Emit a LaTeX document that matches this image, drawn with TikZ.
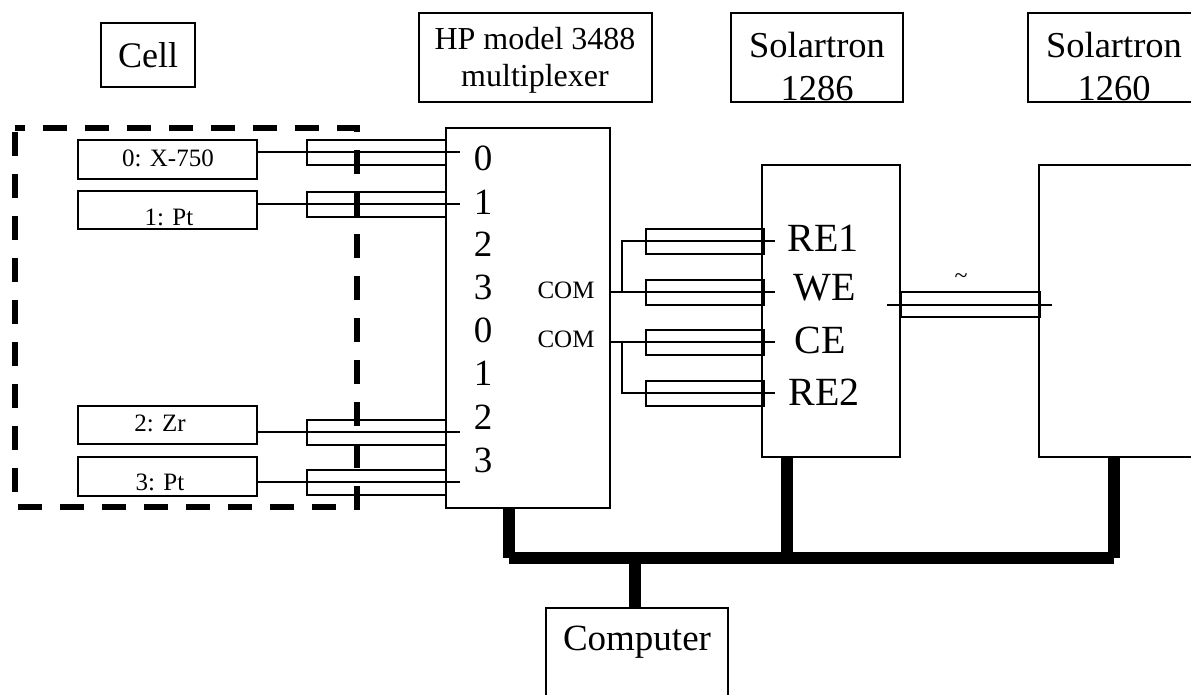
\documentclass[tikz,border=0pt]{standalone}
\usepackage{fontspec}
\setmainfont{Liberation Serif}

\begin{document}
\begin{tikzpicture}[%
					x=1pt,
					y=-1pt,
					line width=2pt,
					box/.style={%
						draw,
						rectangle,
						inner sep=0pt
					},
					tube/.style={%
						box,
						minimum height=25pt
					},
					caption/.style={%
						align=center,
						inner sep=0pt
					},
					bus/.style={%
						line width=12pt
					}
				]

				\useasboundingbox (0, 0) rectangle (1191, 694);

				\draw[line width=6pt, dash pattern=on 24pt off 18pt, dash phase=14pt]
					(15, 128) -- (357, 128) -- (357, 507) -- (15, 507) -- cycle;

				% top row
				\node (cellbox) [box, minimum width=94pt, minimum height=64pt] at (148, 55) {};
				\node (hpbox) [box, minimum width=233pt, minimum height=89pt] at (535.5, 57.5) {};
				\node (solabox) [box, minimum width=172pt, minimum height=89pt] at (817, 57.5) {};
				\node (solbbox) [box, minimum width=172pt, minimum height=89pt] at (1114, 57.5) {};

				\node (celltext) [caption, font=\fontsize{36}{36}\selectfont] at (148, 55) {Cell};
				\node (hptext) [caption, font=\fontsize{32}{37}\selectfont] at (535, 60) {HP model 3488\\multiplexer};
				\node (solatext) [caption, font=\fontsize{36.5}{43}\selectfont] at (817, 67) {Solartron\\1286};
				\node (solbtext) [caption, font=\fontsize{36.5}{43}\selectfont] at (1114, 67) {Solartron\\1260};

				% instruments
				\node (mux) [box, minimum width=164pt, minimum height=380pt] at (528, 317.5) {};
				\node (pot) [box, minimum width=138pt, minimum height=292pt] at (831, 311) {};
				\node (fra) [box, minimum width=160pt, minimum height=292pt] at (1119, 311) {};
				\node (computer) [box, minimum width=182pt, minimum height=100pt] at (637, 658) {};
				\node (computertext) [caption, font=\fontsize{37}{37}\selectfont] at (637, 642) {Computer};

				% samples in the cell
				\foreach \name/\ya/\yb/\wire/\tx/\ty/\txt in {%
					szero/140/179/152/168/158/0: X-750,
					sone/191/229/204/169/217/1: Pt,
					stwo/406/444/432/160/423/2: Zr,
					sthree/457/496/482/160/482/3: Pt%
				} {
					\node (\name) [box, minimum width=179pt, minimum height=\yb pt-\ya pt] at (167.5, {(\ya+\yb)/2}) {};
					\node (\name text) [caption, font=\fontsize{25}{25}\selectfont] at (\tx, \ty) {\txt};
					\coordinate (\name pin) at (460, \wire);
					\node (\name tube) [tube, minimum width=139pt] at (376.5, \wire) {};
					\draw (\name.east |- \name pin) -- (\name pin);
				}

				\foreach \num/\yc [count=\i] in {0/158, 1/202, 2/244, 3/287, 0/330, 1/373, 2/417, 3/460} {
					\node (port\i) [caption, font=\fontsize{37}{37}\selectfont] at (483, \yc) {\num};
				}

				\node (coma) [caption, font=\fontsize{25}{25}\selectfont] at (566, 290) {COM};
				\node (comb) [caption, font=\fontsize{25}{25}\selectfont] at (566, 339) {COM};

				% potentiostat leads
				\foreach \name/\yc/\tx/\ty/\txt in {%
					rea/241/823/238/RE1,
					we/292/825/288/WE,
					ce/342/820/340/CE,
					reb/393/824/392/RE2%
				} {
					\node (\name tube) [tube, minimum width=118pt] at (705, \yc) {};
					\coordinate (\name pin) at (775, \yc);
					\node (\name text) [caption, font=\fontsize{40}{40}\selectfont] at (\tx, \ty) {\txt};
				}

				\coordinate (wejoin) at (622, 292);
				\coordinate (cejoin) at (622, 342);
				\draw (mux.east |- wepin) -- (wepin);
				\draw (mux.east |- cepin) -- (cepin);
				\draw (wejoin) |- (reapin);
				\draw (cejoin) |- (rebpin);

				% link between the two solartrons
				\node (coax) [tube, minimum width=139pt] at (970, 304.5) {};
				\coordinate (coaxa) at (887, 304.5);
				\coordinate (coaxb) at (1052, 304.5);
				\draw (coaxa) -- (coaxb);
				\node (tilde) [caption, font=\fontsize{24}{24}\selectfont] at (961, 279) {\textasciitilde};

				% bus
				\coordinate (busl) at (509, 558);
				\coordinate (busm) at (787, 558);
				\coordinate (busr) at (1114, 558);
				\coordinate (busc) at (635, 558);
				\draw[bus] (mux.south -| busl) -- (busl);
				\draw[bus] (pot.south -| busm) -- (busm);
				\draw[bus] (fra.south -| busr) -- (busr);
				\draw[bus] (computer.north -| busc) -- (busc);
				\draw[bus] (busl) -- (busr);
			\end{tikzpicture}
\end{document}
